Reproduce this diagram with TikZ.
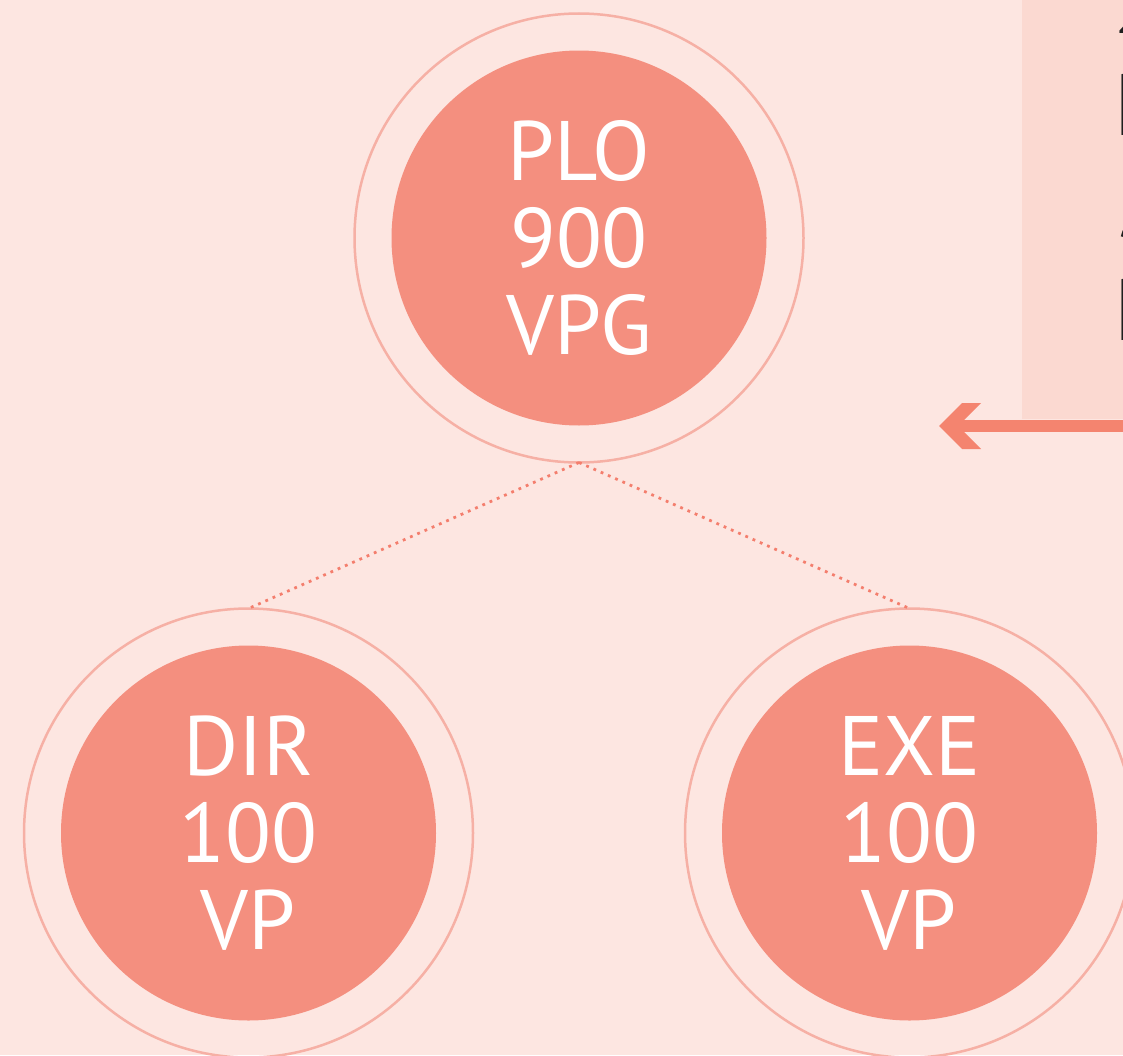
\documentclass[tikz,border=0pt]{standalone}
\usepackage{fontspec}
\setmainfont{PT Sans}
\usepackage{xcolor}
\definecolor{bgpink}{HTML}{FDE6E1}
\definecolor{panelpink}{HTML}{FBD9D1}
\definecolor{salmon}{HTML}{F48F7F}
\definecolor{ringpink}{HTML}{F6B0A5}
\definecolor{dotpink}{HTML}{F47E6D}
\definecolor{arrowpink}{HTML}{F4846F}
\definecolor{notetext}{HTML}{1E1E1E}

\begin{document}
\begin{tikzpicture}[level/.style={sibling distance=13.22cm/#1, level distance=11.9cm},
  member/.style={circle, draw=ringpink, line width=0.05cm, minimum size=8.98cm,
    inner sep=0pt, outer sep=0pt, text=white, align=center,
    font=\fontsize{48}{49.5}\selectfont,
    path picture={\fill[salmon] (path picture bounding box.center) circle (3.75cm);}},
  edge from parent/.style={draw=dotpink, line width=0.055cm, dash pattern=on 1.6pt off 2.9pt},
  edge from parent path={(\tikzparentnode.south) -- (\tikzchildnode.north)},
  note/.style={anchor=base west, inner sep=0pt, text=notetext, font=\fontsize{50}{50}\selectfont}]
\fill[bgpink] (0,0) rectangle (22.46,-21.1);
\useasboundingbox (0,0) rectangle (22.46,-21.1);
\fill[panelpink] (20.44,0.1) rectangle (22.6,-8.38);
\node[note] (n1) at (22.28,-0.66) {2};
\node[note] (n2) at (22.28,-2.70) {P};
\node[note] (n3) at (22.28,-4.74) {5};
\node[note] (n4) at (22.28,-6.80) {P};
\coordinate (tail) at (22.7,-8.52);
\coordinate (tip) at (19.16,-8.52);
\draw[line width=0.24cm, arrowpink] (tail) -- (tip);
\fill[arrowpink] (tip) ++(-0.38,0) -- ++(0.46,0.46) -- ++(0.38,0) -- ++(-0.46,-0.46)
  -- ++(0.46,-0.46) -- ++(-0.38,0) -- cycle;
\node[member] (plo) at (11.58,-4.76) {PLO\\900\\VPG}
    child {node[member] (dir) {DIR\\100\\VP}}
    child {node[member] (exe) {EXE\\100\\VP}};
\end{tikzpicture}
\end{document}
